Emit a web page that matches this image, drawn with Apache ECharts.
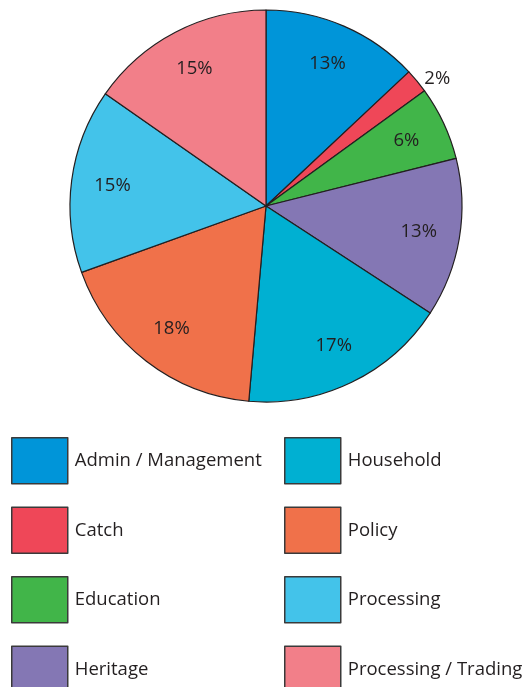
<!DOCTYPE html>
<html><head><meta charset="utf-8">
<script src="https://cdn.jsdelivr.net/npm/echarts@6/dist/echarts.min.js"></script>
<style>html,body{margin:0;padding:0;background:#fff}#c{width:523px;height:687px}</style>
</head><body><div id="c"></div>
<script>
const categories = ['Admin / Management','Catch','Education','Heritage','Household','Policy','Processing','Processing / Trading'];
const values = [13.0, 2.0, 6.1, 13.1, 17.2, 18.1, 15.2, 15.3];
const colors = ['#0095d9','#ef4758','#41b549','#8477b4','#00b0d2','#f0714a','#43c3ea','#f27f89'];
const outsideLabels = ['Catch'];

const R = 196, CX = 266, CY = 206;
const FONT = '"Open Sans", "Noto Sans", sans-serif';
const TXT = '#231f20';

const pieData = categories.map((c,i)=>({name:c, value:values[i], itemStyle:{color:colors[i]}}));
const labelData = categories.map((c,i)=>{
  const d = {name:c, value:values[i]};
  if (outsideLabels.includes(c)) {
    d.label = {position:'outside'};
    d.labelLine = {show:false, length:3, length2:0};
  }
  return d;
});

function legendCol(items, left) {
  return {data:items, orient:'vertical', left:left, top:437, height:320, padding:0,
    itemWidth:56, itemHeight:46, itemGap:22, icon:'rect',
    itemStyle:{borderColor:'#3a3a3a', borderWidth:1.5},
    textStyle:{fontFamily:FONT, fontSize:18.5, color:TXT, padding:[2,0,0,2]}, selectedMode:false};
}

const chart = echarts.init(document.getElementById('c'));
chart.setOption({
  animation:false,
  legend:[legendCol(categories.slice(0,4), 11), legendCol(categories.slice(4), 284)],
  series:[
    {type:'pie', center:[CX,CY], radius:[0,R], startAngle:90, clockwise:true,
     label:{show:false}, labelLine:{show:false}, silent:true,
     itemStyle:{borderColor:'#231f20', borderWidth:1.2},
     data:pieData},
    {type:'pie', center:[CX,CY], radius:[R*0.55,R], startAngle:90, clockwise:true, silent:true,
     itemStyle:{color:'rgba(0,0,0,0)', borderWidth:0},
     label:{show:true, position:'inside', fontFamily:FONT, fontSize:18.5, color:TXT,
       formatter:p=>Math.round(p.percent)+'%'},
     labelLine:{show:false},
     avoidLabelOverlap:false,
     data:labelData}
  ]
});
</script></body></html>
